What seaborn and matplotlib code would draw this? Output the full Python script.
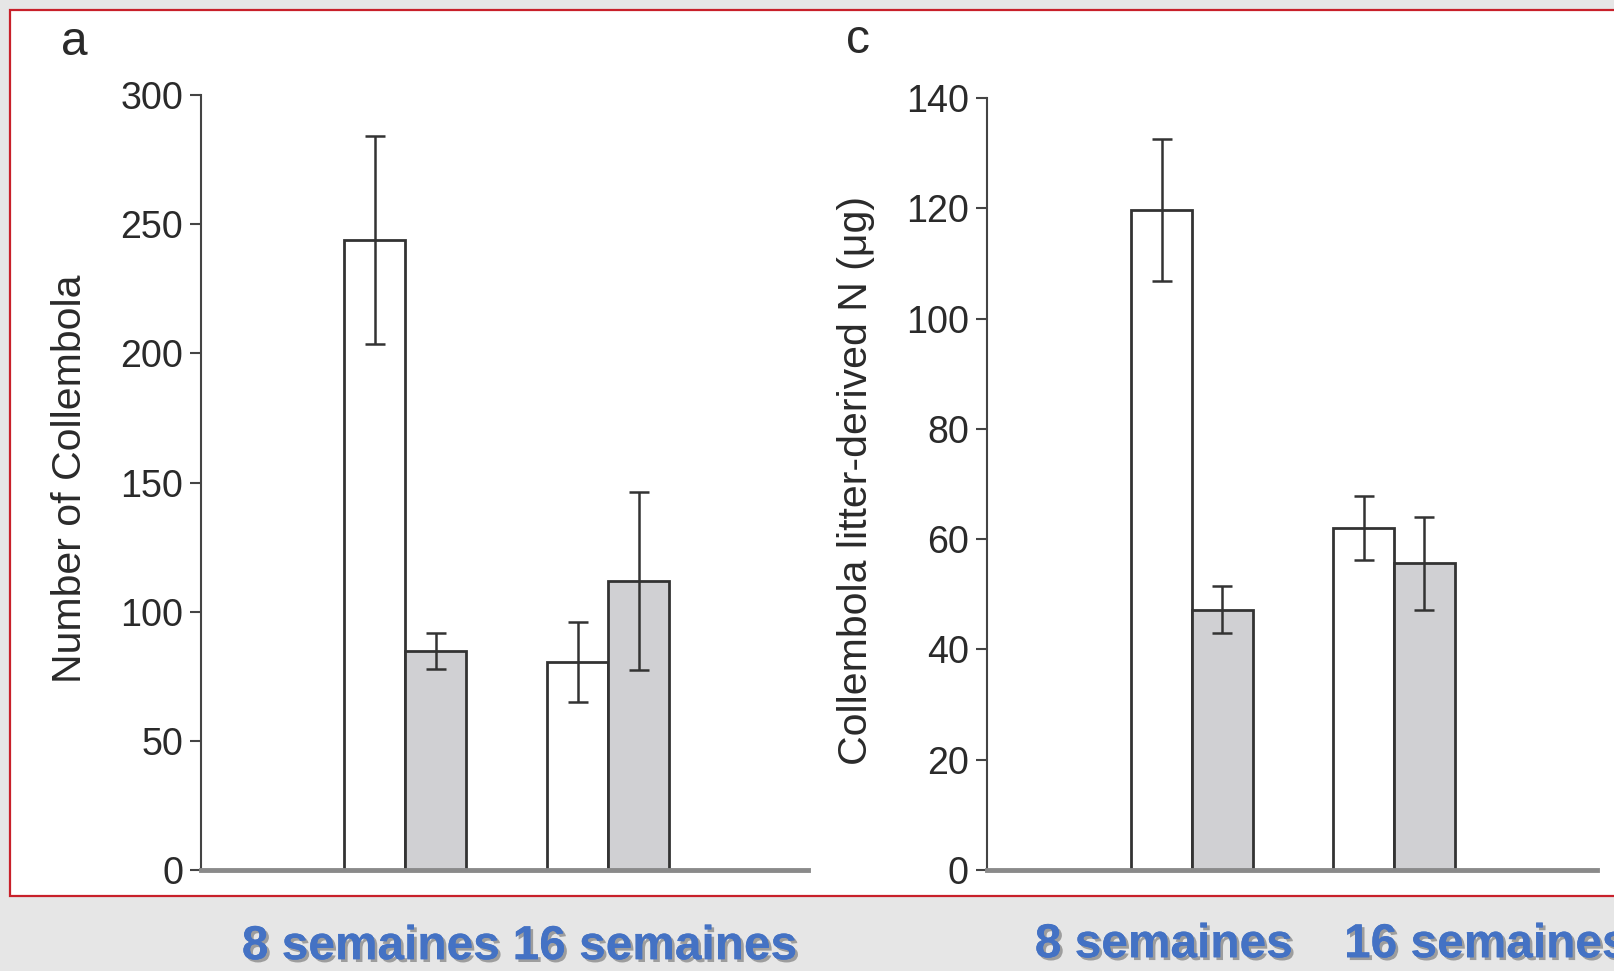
import pandas as pd
import numpy as np
import matplotlib
matplotlib.use("Agg")
import matplotlib.pyplot as plt
import matplotlib.patheffects as pe
from matplotlib import font_manager
from matplotlib.patches import Rectangle
import seaborn as sns

# data
weeks = ["8 semaines", "16 semaines"]
groups = ["white", "grey"]

count_white = [243.9, 80.6]
count_white_err = [40.2, 15.4]
count_grey = [84.8, 111.9]
count_grey_err = [6.8, 34.4]

n_white = [119.7, 62.1]
n_white_err = [12.9, 5.8]
n_grey = [47.2, 55.6]
n_grey_err = [4.3, 8.4]

# fonts: use a narrow face if it exists, the original looks condensed
names = {f.name for f in font_manager.fontManager.ttflist}
narrow = "Liberation Sans Narrow" in names
fam = ["Liberation Sans Narrow", "DejaVu Sans"] if narrow else ["Liberation Sans", "DejaVu Sans"]
k = 1.0 if narrow else 0.82

sns.set_theme(style="white")
plt.rcParams["font.family"] = fam

fig = plt.figure(figsize=(16.15, 9.71), dpi=100, facecolor="#e6e6e6")

# white panel with thin red frame, kept behind the axes
fig.patches.append(Rectangle((0.0062, 0.0772), 1.0, 0.9125, transform=fig.transFigure,
                             facecolor="white", edgecolor="#c8202a", lw=1.6, zorder=-5))

ax1 = fig.add_axes([0.1245, 0.104, 0.3759, 0.798])
ax2 = fig.add_axes([0.6111, 0.104, 0.3777, 0.795])


def panel(ax, white, white_err, grey, grey_err, ymax, step, ylabel):
    df = pd.DataFrame({
        "week": weeks * 2,
        "group": [groups[0]] * 2 + [groups[1]] * 2,
        "value": white + grey,
    })
    sns.barplot(data=df, x="week", y="value", hue="group", order=weeks, hue_order=groups,
                palette={"white": "white", "grey": "#cfcfd3"}, width=0.6, errorbar=None,
                edgecolor="#333333", linewidth=2, legend=False, ax=ax)
    for cont, err in zip(ax.containers, [white_err, grey_err]):
        xs = [b.get_x() + b.get_width() / 2 for b in cont]
        ys = [b.get_height() for b in cont]
        ax.errorbar(xs, ys, yerr=err, fmt="none", ecolor="#333333", elinewidth=1.8,
                    capsize=7, capthick=1.8, zorder=5)
    ax.set_ylim(0, ymax)
    ax.set_yticks(np.arange(0, ymax + 1, step))
    ax.set_xlabel("")
    ax.set_ylabel(ylabel, fontsize=36 * k, color="#2a2a2a")
    ax.yaxis.set_label_coords(-0.184, 0.505)
    ax.set_xticks([])
    ax.set_facecolor("none")
    for s in ["top", "right"]:
        ax.spines[s].set_visible(False)
    ax.spines["left"].set_color("#444444")
    ax.spines["left"].set_linewidth(1.5)
    ax.spines["bottom"].set_color("#8a8a8a")
    ax.spines["bottom"].set_linewidth(3.5)
    ax.tick_params(axis="y", left=True, length=8, width=1.5, color="#444444",
                   labelsize=33 * k, labelcolor="#2a2a2a", pad=5)


panel(ax1, count_white, count_white_err, count_grey, count_grey_err, 300, 50,
      "Number of Collembola")
ax1.set_xlim(-1.005, 1.985)
panel(ax2, n_white, n_white_err, n_grey, n_grey_err, 140, 20,
      "Collembola litter-derived N (\u03bcg)")
ax2.set_xlim(-1.015, 2.005)

fig.text(0.0458, 0.956, "a", fontsize=42 * k, color="#2a2a2a", ha="center", va="center")
fig.text(0.5313, 0.958, "c", fontsize=42 * k, color="#2a2a2a", ha="center", va="center")

# blue labels under the panel
shadow = [pe.withSimplePatchShadow(offset=(2, -2), shadow_rgbFace="#444444", alpha=0.45), pe.Normal()]
blue = dict(fontsize=42 * k, color="#4472c4", fontweight="bold", va="center", path_effects=shadow)
fig.text(0.2297, 0.025, "8 semaines", ha="center", **blue)
fig.text(0.4056, 0.025, "16 semaines", ha="center", **blue)
fig.text(0.7207, 0.027, "8 semaines", ha="center", **blue)
fig.text(0.8322, 0.027, "16 semaines", ha="left", **blue)

fig.savefig("out.png", dpi=100, facecolor=fig.get_facecolor())
